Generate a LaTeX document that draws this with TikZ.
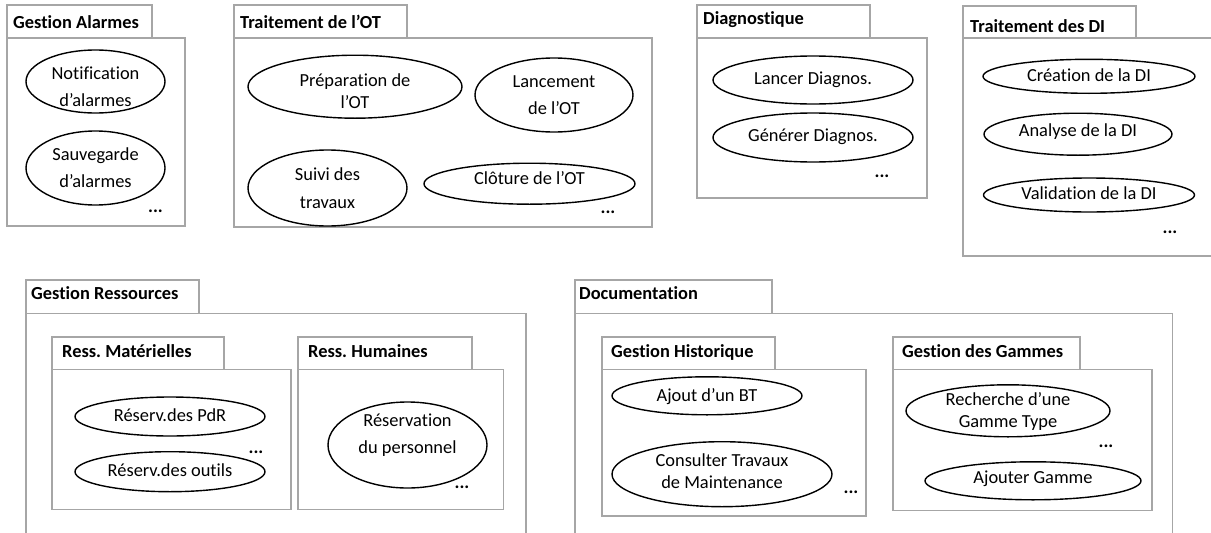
\documentclass[tikz,border=0pt]{standalone}
\usepackage{fontspec}
\setmainfont{Carlito}[Ligatures={NoCommon}]
\usetikzlibrary{shapes.geometric}
\definecolor{pkggray}{RGB}{166,166,166}
\newcommand{\uctxt}[2]{\raisebox{-#1pt}[0pt][0pt]{\begin{tabular}[t]{@{}c@{}}#2\end{tabular}}}
\tikzset{
  pkgline/.style={draw=pkggray, line width=1.6pt},
  pkgtitle/.style={font=\bfseries\fontsize{18.4}{22}\selectfont, anchor=base west, inner sep=0pt},
  usecase/.style={ellipse, draw=black, line width=1.4pt, inner sep=0pt, font=\fontsize{18.4}{27}\selectfont},
  tight/.style={font=\fontsize{18.4}{22}\selectfont},
  more/.style={font=\bfseries\fontsize{18.4}{22}\selectfont, anchor=base, inner sep=0pt}
}
\begin{document}
\frenchspacing
\begin{tikzpicture}[x=1pt,y=-1pt]
\useasboundingbox[fill=white] (0,0) rectangle (1211,533);

% ---------- Gestion Alarmes ----------
\draw[pkgline] (7,5) rectangle (152,38);
\draw[pkgline] (7,38) rectangle (185,226);
\node[pkgtitle] (tGA) at (13,28.3) {Gestion Alarmes};
\node[usecase, minimum width=139pt, minimum height=63pt] (ga1) at (95.5,81.5) {\uctxt{-2.5}{Notification\\d’alarmes}};
\node[usecase, minimum width=139pt, minimum height=74pt] (ga2) at (95.5,168) {\uctxt{-7.3}{Sauvegarde\\d’alarmes}};
\node[more] (mGA) at (155.5,212) {...};

% ---------- Traitement de l'OT ----------
\draw[pkgline] (234,5) rectangle (407,38);
\draw[pkgline] (234,38) rectangle (652,227);
\node[pkgtitle] (tOT) at (240,28.3) {Traitement de l’OT};
\node[usecase, tight, minimum width=214pt, minimum height=63pt] (ot1) at (355,86.7) {\uctxt{-0.7}{Préparation de\\l’OT}};
\node[usecase, minimum width=158pt, minimum height=74pt] (ot2) at (554,95) {\uctxt{-7.7}{Lancement\\de l’OT}};
\node[usecase, font=\fontsize{18.4}{28.5}\selectfont, minimum width=159pt, minimum height=76pt] (ot3) at (327.5,188) {\uctxt{-8}{Suivi des\\travaux}};
\node[usecase, minimum width=211pt, minimum height=41pt] (ot4) at (529.5,183.7) {\uctxt{0.7}{Clôture de l’OT}};
\node[more] (mOT) at (608,213) {...};

% ---------- Diagnostique ----------
\draw[pkgline] (697,5) rectangle (870,38);
\draw[pkgline] (697,38) rectangle (927,198);
\node[pkgtitle] (tDG) at (703,24.5) {Diagnostique};
\node[usecase, minimum width=200pt, minimum height=48pt] (dg1) at (813,80) {\uctxt{4}{Lancer Diagnos.}};
\node[usecase, minimum width=200pt, minimum height=49pt] (dg2) at (813,137.5) {\uctxt{4.2}{Générer Diagnos.}};
\node[more] (mDG) at (882,177) {...};

% ---------- Traitement des DI ----------
\draw[pkgline] (963,6) rectangle (1136,38);
\draw[pkgline] (1212,38) -- (963,38) -- (963,256) -- (1212,256);
\node[pkgtitle] (tDI) at (970,32) {Traitement des DI};
\node[usecase, minimum width=212pt, minimum height=34pt] (di1) at (1089,76.3) {\uctxt{5.3}{Création de la DI}};
\node[usecase, minimum width=188pt, minimum height=42pt] (di2) at (1078,134.2) {\uctxt{2.5}{Analyse de la DI}};
\node[usecase, minimum width=211pt, minimum height=34pt] (di3) at (1089,195) {\uctxt{4.3}{Validation de la DI}};
\node[more] (mDI) at (1170,233) {...};

% ---------- Gestion Ressources ----------
\draw[pkgline] (26,280) rectangle (199,313.5);
\draw[pkgline] (26,534) -- (26,313.5) -- (525.7,313.5) -- (525.7,534);
\node[pkgtitle] (tGR) at (31,299) {Gestion Ressources};
% Ress. Matérielles
\draw[pkgline] (52,337) rectangle (224,369.5);
\draw[pkgline] (52,369.5) rectangle (291,509.5);
\node[pkgtitle] (tRM) at (62,357) {Ress. Matérielles};
\node[usecase, minimum width=190pt, minimum height=39pt] (rm1) at (170,416.5) {\uctxt{5.2}{Réserv.des PdR}};
\node[usecase, minimum width=190pt, minimum height=40pt] (rm2) at (170,471.7) {\uctxt{4.3}{Réserv.des outils}};
\node[more] (mRM) at (256,453) {...};
% Ress. Humaines
\draw[pkgline] (298,337) rectangle (472,369.5);
\draw[pkgline] (298,369.5) rectangle (503.3,509.5);
\node[pkgtitle] (tRH) at (308,357) {Ress. Humaines};
\node[usecase, minimum width=159pt, minimum height=86pt] (rh1) at (407.5,445) {\uctxt{-18.3}{Réservation\\du personnel}};
\node[more] (mRH) at (462,488) {...};

% ---------- Documentation ----------
\draw[pkgline] (575,280) rectangle (772,313.5);
\draw[pkgline] (575,534) -- (575,313.5) -- (1172.3,313.5) -- (1172.3,534);
\node[pkgtitle] (tDC) at (579,299) {Documentation};
% Gestion Historique
\draw[pkgline] (602,337) rectangle (775,369.5);
\draw[pkgline] (602,369.5) rectangle (866,516);
\node[pkgtitle] (tGH) at (611,357) {Gestion Historique};
\node[usecase, minimum width=190pt, minimum height=38pt] (gh1) at (707,395.8) {\uctxt{5.8}{Ajout d’un BT}};
\node[usecase, tight, minimum width=220pt, minimum height=65pt] (gh2) at (722,474.2) {\uctxt{-7.5}{Consulter Travaux\\de Maintenance}};
\node[more] (mGH) at (851,493) {...};
% Gestion des Gammes
\draw[pkgline] (893,337) rectangle (1080,369.5);
\draw[pkgline] (893,369.5) rectangle (1151.7,510.5);
\node[pkgtitle] (tGG) at (902,357) {Gestion des Gammes};
\node[usecase, tight, minimum width=204pt, minimum height=52pt] (gg1) at (1008,410.8) {\uctxt{-5.8}{Recherche d’une\\Gamme Type}};
\node[usecase, minimum width=216pt, minimum height=38pt] (gg2) at (1033,480.8) {\uctxt{2.5}{Ajouter Gamme}};
\node[more] (mGG) at (1106,447) {...};
\end{tikzpicture}
\end{document}
